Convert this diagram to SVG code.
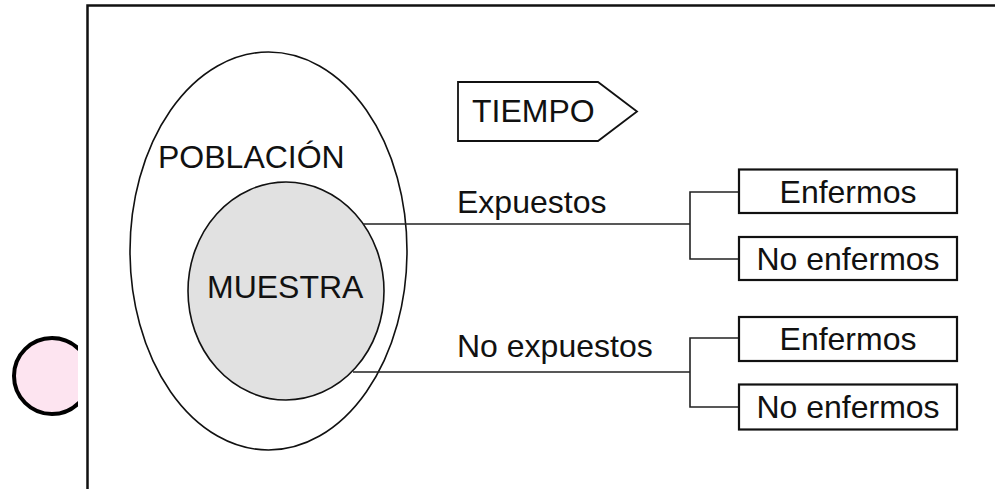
<svg xmlns="http://www.w3.org/2000/svg" width="995" height="489" viewBox="0 0 995 489">
  <style>
    .t { font-family: "Liberation Sans", Arial, sans-serif; font-size: 32px; fill: #111; }
    .box { fill: #fff; stroke: #111; stroke-width: 2.2; }
    .conn { fill: none; stroke: #222; stroke-width: 1.6; }
    .ell { stroke: #111; stroke-width: 1.6; }
  </style>
  <defs>
    <clipPath id="clipL"><rect x="0" y="0" width="78" height="489"/></clipPath>
  </defs>
  <rect x="0" y="0" width="995" height="489" fill="#fff"/>
  <g id="frame">
    <path d="M87.5,489 V5.5 H995" fill="none" stroke="#111" stroke-width="2.5"/>
  </g>
  <g id="marker-circle" clip-path="url(#clipL)">
    <circle cx="52" cy="376" r="38" fill="#fde4f0" stroke="#000" stroke-width="4"/>
  </g>
  <g id="poblacion">
    <ellipse class="ell" cx="268.5" cy="251" rx="138.5" ry="199" fill="none"/>
    <text class="t" x="158" y="168">POBLACIÓN</text>
  </g>
  <g id="muestra">
    <ellipse class="ell" cx="286" cy="291" rx="98" ry="109" fill="#e1e1e1"/>
    <text class="t" x="207" y="298">MUESTRA</text>
  </g>
  <g id="tiempo">
    <polygon points="458,82 598,82 637,111.5 598,141 458,141" fill="#fff" stroke="#111" stroke-width="1.8"/>
    <text class="t" x="472" y="122">TIEMPO</text>
  </g>
  <g id="connectors">
    <path class="conn" d="M363,224 H690 M739,192 H690 V259 H739"/>
    <path class="conn" d="M353,372 H690 M739,338 H690 V407 H739"/>
  </g>
  <g id="label-expuestos">
    <text class="t" x="457" y="213">Expuestos</text>
  </g>
  <g id="label-no-expuestos">
    <text class="t" x="457" y="357">No expuestos</text>
  </g>
  <g id="exp-enfermos">
    <rect class="box" x="739" y="169.5" width="218" height="43.5"/>
    <text class="t" x="848" y="203" text-anchor="middle">Enfermos</text>
  </g>
  <g id="exp-no-enfermos">
    <rect class="box" x="739" y="237" width="218" height="43"/>
    <text class="t" x="848" y="270" text-anchor="middle">No enfermos</text>
  </g>
  <g id="noexp-enfermos">
    <rect class="box" x="739" y="317" width="218" height="44" stroke-width="2.6"/>
    <text class="t" x="848" y="350" text-anchor="middle">Enfermos</text>
  </g>
  <g id="noexp-no-enfermos">
    <rect class="box" x="739" y="384.5" width="218" height="45" stroke-width="2.6"/>
    <text class="t" x="848" y="418" text-anchor="middle">No enfermos</text>
  </g>
</svg>
